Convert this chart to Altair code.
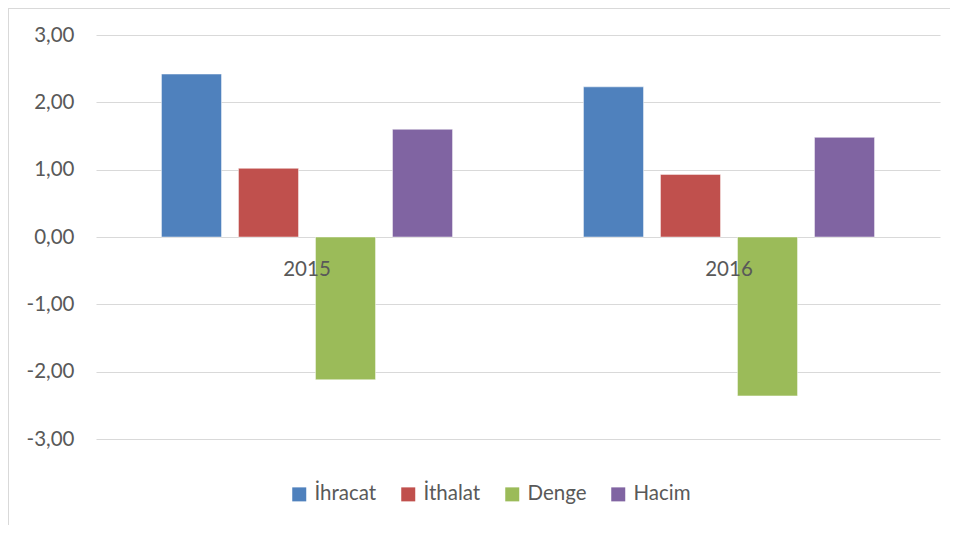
import altair as alt
import pandas as pd

years = ["2015", "2016"]
series = ["İhracat", "İthalat", "Denge", "Hacim"]
values_2015 = [2.42, 1.02, -2.12, 1.60]
values_2016 = [2.23, 0.93, -2.36, 1.48]
colors = ["#4F81BD", "#C0504D", "#9BBB59", "#8064A2"]
y_ticks = [-3, -2, -1, 0, 1, 2, 3]

rows = []
for s, v in zip(series, values_2015):
    rows.append({"Yil": "2015", "Seri": s, "Deger": v})
for s, v in zip(series, values_2016):
    rows.append({"Yil": "2016", "Seri": s, "Deger": v})
df = pd.DataFrame(rows)
labels_df = pd.DataFrame({"Yil": years, "zero": [0, 0]})

FONT = "Lato"
FS = 20.5

x_enc = alt.X("Yil:N", sort=years, axis=None,
              scale=alt.Scale(paddingInner=0, paddingOuter=0))
y_scale = alt.Scale(domain=[-3, 3], nice=False, zero=False)

bars = alt.Chart(df).mark_bar(stroke="white", strokeWidth=0.8, strokeOpacity=0.6).encode(
    x=x_enc,
    xOffset=alt.XOffset("Seri:N", sort=series,
                        scale=alt.Scale(paddingInner=0.22, paddingOuter=0.85)),
    y=alt.Y("Deger:Q", scale=y_scale, title=None,
            axis=alt.Axis(values=y_ticks, grid=True, gridColor="#d9d9d9", gridWidth=1,
                          domain=False, ticks=False, labelPadding=22,
                          labelFont=FONT, labelFontSize=FS, labelColor="#595959",
                          labelExpr="replace(replace(format(datum.value, '.2f'), '.', ','), '\u2212', '-')")),
    color=alt.Color("Seri:N", sort=series,
                    scale=alt.Scale(domain=series, range=colors),
                    legend=alt.Legend(title=None, orient="none", direction="horizontal",
                                      legendX=193, legendY=449,
                                      symbolType="square", symbolSize=196,
                                      symbolStrokeWidth=0, labelFont=FONT,
                                      labelFontSize=FS, labelColor="#595959",
                                      labelOffset=5, columnPadding=21)),
)

year_text = alt.Chart(labels_df).mark_text(
    font=FONT, fontSize=FS, color="#595959", baseline="middle", dy=33
).encode(
    x=x_enc,
    y=alt.Y("zero:Q", scale=y_scale),
    text="Yil:N",
)

frame_left = alt.Chart(labels_df).mark_rule(color="#d9d9d9", strokeWidth=2).encode(
    x=alt.value(-88), y=alt.value(-27), y2=alt.value(490)
)
frame_top = alt.Chart(labels_df).mark_rule(color="#d9d9d9", strokeWidth=2).encode(
    x=alt.value(-88), x2=alt.value(860), y=alt.value(-27)
)

chart = alt.layer(bars, year_text, frame_left, frame_top).properties(
    width=844, height=404,
    padding={"left": 88, "top": 27, "right": 10, "bottom": 86},
    autosize=alt.AutoSizeParams(type="none"),
).configure_view(stroke=None)

chart.save("out.html", embed_options={"renderer": "svg", "actions": False})
